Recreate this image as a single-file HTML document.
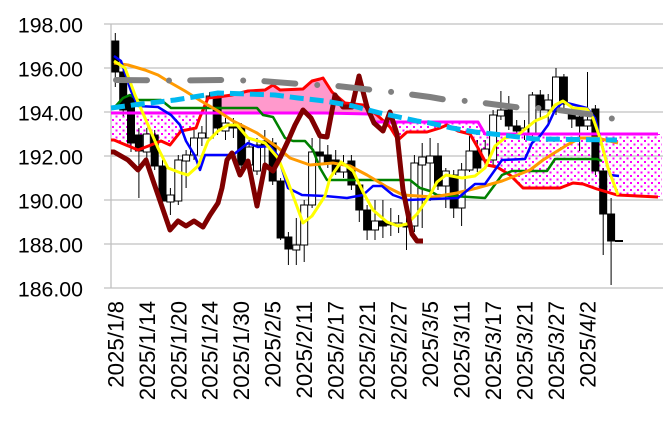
<!DOCTYPE html>
<html><head><meta charset="utf-8"><style>
html,body{margin:0;padding:0;background:#fff;}
svg{display:block;}
text{font-family:"Liberation Sans",Arial,sans-serif;fill:#000;}
</style></head><body>
<svg width="665" height="429" viewBox="0 0 665 429" xmlns="http://www.w3.org/2000/svg">
<defs>
<pattern id="dots" x="0" y="0" width="7" height="7" patternUnits="userSpaceOnUse">
<rect x="0" y="0" width="2" height="2" fill="#FF00FF"/>
<rect x="3.5" y="3.5" width="2" height="2" fill="#FF00FF"/>
</pattern>
<clipPath id="cpPink"><rect x="202" y="0" width="183" height="429"/></clipPath>
<clipPath id="cpDots"><rect x="100" y="0" width="102" height="429"/><rect x="385" y="0" width="280" height="429"/></clipPath>
<polygon id="cloud" points="111,140 114,140 138,150 151,145 161,141 170,145 181,131 196,128 200,117 208,98 218,97 232,95 248,91 265,90 273,85 280,90 303,89 312,81 320,79 323,78 332,92 345,103 363,105 377,115 390,127 398,140 407,132 427,132 440,128 447,125 458,131 470,134 478,148 487,165 497,167 510,175 523,188 560,188 573,183 583,184 597,189 617,195 658,197 662,197 662,134 485,134 478,122 374,122 370,114 111,113"/>
</defs>
<rect width="665" height="429" fill="#fff"/>
<g stroke="#C0C0C0" stroke-width="1.3">
<line x1="104" y1="24" x2="663" y2="24"/>
<line x1="104" y1="68" x2="663" y2="68"/>
<line x1="104" y1="112" x2="663" y2="112"/>
<line x1="104" y1="156" x2="663" y2="156"/>
<line x1="104" y1="200" x2="663" y2="200"/>
<line x1="104" y1="244" x2="663" y2="244"/>
<line x1="104" y1="288" x2="663" y2="288"/>
<line x1="111" y1="24" x2="111" y2="288"/>
</g>
<g font-size="21.3" text-anchor="end">
<text x="83" y="32.5">198.00</text>
<text x="83" y="76.5">196.00</text>
<text x="83" y="120.5">194.00</text>
<text x="83" y="164.5">192.00</text>
<text x="83" y="208.5">190.00</text>
<text x="83" y="252.5">188.00</text>
<text x="83" y="296.5">186.00</text>
</g>
<g font-size="22.3" text-anchor="end">
<text transform="translate(123.3,301) rotate(-90)">2025/1/8</text>
<text transform="translate(154.8,301) rotate(-90)">2025/1/14</text>
<text transform="translate(186.3,301) rotate(-90)">2025/1/20</text>
<text transform="translate(217.7,301) rotate(-90)">2025/1/24</text>
<text transform="translate(249.2,301) rotate(-90)">2025/1/30</text>
<text transform="translate(280.7,301) rotate(-90)">2025/2/5</text>
<text transform="translate(312.2,301) rotate(-90)">2025/2/11</text>
<text transform="translate(343.7,301) rotate(-90)">2025/2/17</text>
<text transform="translate(375.1,301) rotate(-90)">2025/2/21</text>
<text transform="translate(406.6,301) rotate(-90)">2025/2/27</text>
<text transform="translate(438.1,301) rotate(-90)">2025/3/5</text>
<text transform="translate(469.6,301) rotate(-90)">2025/3/11</text>
<text transform="translate(501.1,301) rotate(-90)">2025/3/17</text>
<text transform="translate(532.5,301) rotate(-90)">2025/3/21</text>
<text transform="translate(564.0,301) rotate(-90)">2025/3/27</text>
<text transform="translate(595.5,301) rotate(-90)">2025/4/2</text>
</g>
<use href="#cloud" clip-path="url(#cpPink)" fill="#FF99CC"/>
<use href="#cloud" clip-path="url(#cpDots)" fill="url(#dots)"/>
<path stroke="#000" stroke-width="1" fill="none" d="M115.3 33V87M123.2 70V116M131 94V152M138.9 128V198M146.8 128V160M154.7 130V170M162.5 160V204M170.4 188V215M178.3 155V205M186.1 150V188M194 130V160M201.9 126V146M209.7 92V140M217.6 95V135M225.5 118V140M233.4 118V138M241.2 123V168M249.1 140V170M257 138V175M264.8 130V175M272.7 138V185M280.6 178V240M288.4 232V265M296.3 218V265M304.2 200V262M312.1 138V208M319.9 138V168M327.8 145V168M335.7 150V175M343.5 155V178M351.4 155V190M359.3 180V222M367.1 205V240M375 200V240M382.9 200V238M390.8 208V236M398.6 215V233M406.5 200V250M414.4 155V232M422.2 143V228M430.1 138V201M438 143V190M445.8 168V208M453.7 170V218M461.6 163V226M469.5 136V172M477.3 140V172M485.2 140V165M493.1 110V165M500.9 91V120M508.8 96V130M516.7 120V135M524.5 120V140M532.4 92V140M540.3 90V118M548.2 94V125M556 68V115M563.9 74V112M571.8 104V128M579.6 110V151M587.5 72V130M595.4 105V175M603.2 168V255M611.1 198V285"/>
<path stroke="#000" stroke-width="1" fill="#000" d="M111.8 41h7v31h-7zM119.7 72h7v38h-7zM127.5 96h7v47h-7zM135.4 135h7v16h-7zM151.2 135h7v31h-7zM159 166h7v35h-7zM214.1 98h7v30h-7zM229.9 125h7v3h-7zM237.7 128h7v37h-7zM261.3 141h7v4h-7zM269.2 143h7v38h-7zM277.1 181h7v57h-7zM284.9 237h7v12h-7zM316.4 152h7v4h-7zM324.3 155h7v8h-7zM332.2 160h7v12h-7zM347.9 161h7v24h-7zM355.8 185h7v25h-7zM363.6 210h7v20h-7zM379.4 221h7v5h-7zM387.3 223h7v2h-7zM403 225h7v2h-7zM434.5 156h7v30h-7zM450.2 175h7v33h-7zM473.8 151h7v17h-7zM505.3 110h7v16h-7zM513.2 126h7v5h-7zM536.8 95h7v15h-7zM560.4 77h7v27h-7zM568.3 111h7v8h-7zM576.1 117h7v9h-7zM591.9 109h7v62h-7zM599.7 171h7v43h-7zM607.6 214h7v27h-7zM615.5 240.5h7v1h-7z"/>
<path stroke="#000" stroke-width="1" fill="#fff" d="M143.3 134h7v18h-7zM166.9 195h7v7h-7zM174.8 160h7v41h-7zM182.6 155h7v6h-7zM190.5 138h7v17h-7zM198.4 133h7v5h-7zM206.2 96h7v42h-7zM222 123h7v8h-7zM245.6 147h7v18h-7zM253.5 145h7v26h-7zM292.8 245h7v5h-7zM300.7 205h7v40h-7zM308.6 152h7v53h-7zM340 164h7v8h-7zM371.5 221h7v9h-7zM395.1 223h7v2h-7zM410.9 163h7v63h-7zM418.7 157h7v8h-7zM426.6 156h7v7h-7zM442.3 171h7v15h-7zM458.1 170h7v38h-7zM466 151h7v19h-7zM481.7 149h7v11h-7zM489.6 115h7v45h-7zM497.4 110h7v6h-7zM521 128h7v7h-7zM528.9 95h7v40h-7zM544.7 100h7v10h-7zM552.5 77h7v34h-7zM584 120h7v6h-7z"/>
<g fill="none" stroke-linejoin="round">
<polyline stroke="#FF0000" stroke-width="3" points="111,140 114,140 138,150 151,145 161,141 170,145 181,131 196,128 200,117 208,98 218,97 232,95 248,91 265,90 273,85 280,90 303,89 312,81 320,79 323,78 332,92 345,103 363,105 377,115 390,127 398,140 407,132 427,132 440,128 447,125 458,131 470,134 478,148 487,165 497,167 510,175 523,188 560,188 573,183 583,184 597,189 617,195 658,197"/>
<polyline stroke="#FF00FF" stroke-width="3" points="111,113 325,113 370,114 374,122 478,122 485,134 658,134"/>
<polyline stroke="#008000" stroke-width="2.5" points="114,108 123,98 130,95 138,100 161,100 171,108 257,108 263,115 273,117 285,138 293,141 305,141 313,150 320,168 327,180 410,180 420,188 430,191 437,195 485,198 502,175 512,171 547,171 555,159 597,159 602,161"/>
<polyline stroke="#FF9A00" stroke-width="3" points="114,63 128,65 145,70 158,75 171,83 185,91 201,101 218,111 233,121 257,133 277,147 290,158 310,165 333,163 350,166 367,175 387,187 403,195 433,197 457,193 477,188 502,181 515,176 530,170 543,160 567,145 580,138 597,138 618,143"/>
<polyline stroke="#0000FF" stroke-width="2.5" points="114,56 121,61 131,91 138,106 158,107 171,115 180,125 186,141 195,156 200,170 205,155 233,155 248,143 258,147 270,146 278,156 288,188 302,195 325,196 347,198 363,195 373,186 382,186 393,195 407,200 458,198 475,184 485,184 502,160 525,159 532,143 540,136 548,125 555,110 563,102 587,108 595,118 602,145 610,175 619,176"/>
<polyline stroke="#FFFF00" stroke-width="3" points="114,61 125,68 135,95 145,118 158,148 168,168 181,173 188,175 198,166 208,141 218,131 228,125 237,125 248,138 265,143 278,158 288,182 303,223 312,216 325,196 330,178 341,162 353,171 363,192 373,210 387,222 398,226 407,224 417,214 430,195 437,182 446,175 462,178 475,176 485,168 495,146 505,138 518,135 535,121 547,116 555,105 563,101 573,108 587,109 593,118 600,138 608,168 618,195"/>
<polyline stroke="#800000" stroke-width="5" points="111,152 114,152 128,160 138,170 146,160 158,195 170,230 178,221 186,226 194,221 203,227 210,215 218,203 222,188 227,160 232,153 240,175 248,161 257,206 265,165 273,171 280,158 288,141 295,125 303,110 311,118 320,136 327,137 335,95 343,107 352,107 359,76 367,107 374,123 383,131 390,112 397,134 403,190 412,234 417,241 423,241"/>
<polyline stroke="#808080" stroke-width="6" stroke-linecap="round" stroke-dasharray="31 22 0 21.2" points="116,80 170,80.5 227,80 262,81 300,84 318,85 337,86 373,90 392,92 430,97 447,100 466,101 484,103 522,108 540,108 558,110 595,115 614,119"/>
<polyline stroke="#00B8F0" stroke-width="5" stroke-dasharray="14 6" points="111,108 133,105 175,100 218,93 248,94 275,95 298,98 325,101 353,106 380,113 417,121 430,123 452,128 475,132 502,135 535,139 617,140"/>
</g>
</svg>
</body></html>
